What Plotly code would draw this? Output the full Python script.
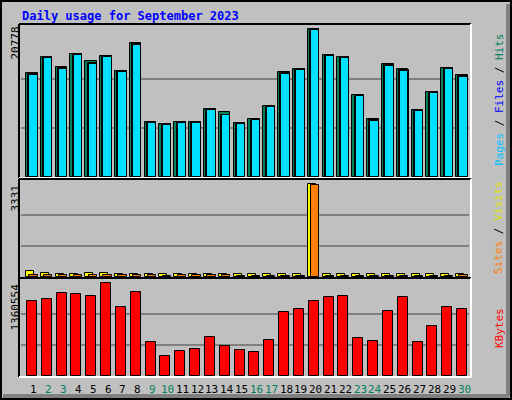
import plotly.graph_objects as go

days = list(range(1, 31))
hit_px = [73,57,67,54,61,56,71,43,122,124,122,122,109,112,123,119,106,72,69,29,55,57,95,119,64,69,110,92,68,75]
hits = [round((176.5 - y) / 147 * 20778) for y in hit_px]
files_ratio = [0.99,1.0,0.99,1.0,0.98,1.0,1.0,0.99,1.0,1.0,1.0,1.0,1.0,0.96,0.99,0.99,0.99,0.99,1.0,1.0,1.0,1.0,0.99,0.98,0.99,0.99,1.0,1.0,1.0,0.99]
files = [round(h * r) for h, r in zip(hits, files_ratio)]
pages = [round(f * 0.995) for f in files]
visits = [215,150,120,120,130,150,110,120,110,90,110,120,120,110,90,90,90,90,90,3331,100,100,100,90,90,100,100,100,100,110]
sites = [80,70,60,70,70,70,60,70,60,50,60,70,70,60,50,50,50,50,50,3290,50,50,50,50,50,50,50,50,50,60]
kb_px = [302,300,294,295,297,284,308,293,342,356,351,349,337,346,350,352,340,313,310,302,298,297,338,341,312,298,342,327,308,310]
kbytes = [round((376 - y) / 92 * 1360554) for y in kb_px]
max_hits, max_visits, max_kb = 20778, 3331, 1360554
weekend = [2, 3, 9, 10, 16, 17, 23, 24, 30, 31]

W, H = 512, 400
def px(x): return x / W
def py(y): return 1 - y / H

x_rng = [1 + (20 - 33) / 14.9, 1 + (470 - 33) / 14.9]
fig = go.Figure()
line = dict(color="black", width=1)
def bar(y, off, w, color, xa, ya):
    fig.add_trace(go.Bar(x=days, y=y, offset=off, width=w, marker=dict(color=color, line=line),
                         xaxis=xa, yaxis=ya, showlegend=False, hoverinfo="skip"))
bar(hits, -0.54, 0.78, "#00805C", "x", "y")
bar(files, -0.38, 0.63, "#0000FF", "x", "y")
bar(pages, -0.32, 0.56, "#00E0FF", "x", "y")
bar(visits, -0.54, 0.54, "#FFFF00", "x2", "y2")
bar(sites, -0.32, 0.56, "#FF8000", "x2", "y2")
bar(kbytes, -0.47, 0.67, "#FF0000", "x3", "y3")

panels = [(25, 177, max_hits * 151.5 / 147), (180, 277, max_visits * 96 / 92), (279, 376, max_kb * 96 / 92)]
maxv = [max_hits, max_visits, max_kb]
lay = dict(width=W, height=H, margin=dict(l=0, r=0, t=0, b=0), paper_bgcolor="#C0C0C0",
           plot_bgcolor="#C0C0C0", barmode="overlay", bargap=0)
shapes = []
for i, (t, b, top) in enumerate(panels):
    s = "" if i == 0 else str(i + 1)
    lay["xaxis" + s] = dict(domain=[px(21), px(469)], range=x_rng, showticklabels=False, showgrid=False,
                            zeroline=False, anchor="y" + s, fixedrange=True)
    lay["yaxis" + s] = dict(domain=[py(b), py(t)], range=[0, top], showticklabels=False,
                            tickvals=[maxv[i] / 3, 2 * maxv[i] / 3], gridcolor="#808080", gridwidth=1.5,
                            zeroline=False, anchor="x" + s, fixedrange=True)
    shapes += [dict(type="line", xref="paper", yref="paper", x0=px(19), x1=px(471), y0=py(t - 1), y1=py(t - 1), line=dict(color="black", width=2)),
               dict(type="line", xref="paper", yref="paper", x0=px(19), x1=px(19), y0=py(t - 1), y1=py(b + 1), line=dict(color="black", width=2)),
               dict(type="line", xref="paper", yref="paper", x0=px(19), x1=px(471), y0=py(b + 1), y1=py(b + 1), line=dict(color="white", width=2)),
               dict(type="line", xref="paper", yref="paper", x0=px(471), x1=px(471), y0=py(t - 1), y1=py(b + 1), line=dict(color="white", width=2))]
shapes += [dict(type="rect", xref="paper", yref="paper", x0=px(1), x1=px(511), y0=py(399), y1=py(1), line=dict(color="black", width=2)),
           dict(type="line", xref="paper", yref="paper", x0=px(3), x1=px(509), y0=py(396), y1=py(396), line=dict(color="#808080", width=4)),
           dict(type="line", xref="paper", yref="paper", x0=px(508), x1=px(508), y0=py(396), y1=py(4), line=dict(color="#808080", width=4))]
lay["shapes"] = shapes
fig.update_layout(**lay)

font = "DejaVu Sans Mono"
ann = [dict(text="<b>Daily usage for September 2023</b>", x=px(20), y=py(16), xref="paper", yref="paper",
            xanchor="left", yanchor="middle", showarrow=False, font=dict(family=font, size=12, color="#0000FF"))]
for txt, yc in [(str(max_hits), 25), (str(max_visits), 183), (str(max_kb), 282)]:
    ann.append(dict(text=txt, textangle=-90, x=px(15), y=py(yc), xref="paper", yref="paper", xanchor="center",
                    yanchor="top", showarrow=False, font=dict(family=font, size=11, color="black")))
for d in range(1, 32):
    ann.append(dict(text=str(d), x=d, xref="x3", y=py(389), yref="paper", showarrow=False,
                    xanchor="center", yanchor="middle",
                    font=dict(family=font, size=11, color="#00805C" if d in weekend else "black")))
right = [('<span style="color:#00C0FF">Pages</span> / <span style="color:#0000FF">Files</span> / <span style="color:#00805C">Hits</span>', 100),
         ('<span style="color:#FF8000">Sites</span> / <span style="color:#E0E000">Visits</span>', 228),
         ('<span style="color:#FF0000">KBytes</span>', 328)]
for txt, yc in right:
    ann.append(dict(text=txt, textangle=-90, x=px(499), y=py(yc), xref="paper", yref="paper", showarrow=False,
                    xanchor="center", yanchor="middle",
                    font=dict(family=font, size=11, color="black")))
fig.update_layout(annotations=ann)
fig.write_html("out.html", config={"displayModeBar": False},
               post_script="document.body.style.margin='0';document.body.style.overflow='hidden';")
